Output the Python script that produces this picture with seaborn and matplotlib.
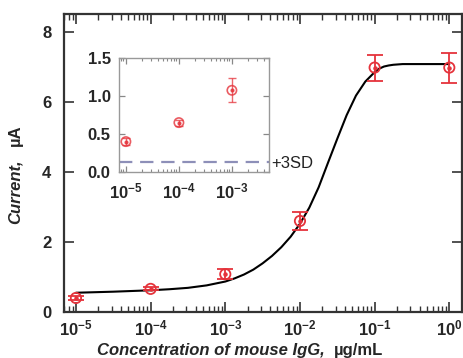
import numpy as np
import pandas as pd
import matplotlib
matplotlib.use("Agg")
import matplotlib.pyplot as plt
import seaborn as sns
from matplotlib.ticker import FixedLocator, FuncFormatter, NullFormatter, LogLocator

# ---------------- data ----------------
conc = [1e-5, 1e-4, 1e-3, 1e-2, 1e-1, 1e0]
current = [0.40, 0.66, 1.08, 2.60, 6.98, 6.98]
current_err = [0.05, 0.04, 0.15, 0.25, 0.37, 0.43]

fit_logx = [-5.0, -4.5, -4.0, -3.75, -3.5, -3.25, -3.0, -2.875, -2.75,
            -2.625, -2.5, -2.375, -2.25, -2.125, -2.0, -1.875, -1.75,
            -1.625, -1.5, -1.375, -1.25, -1.125, -1.0, -0.9375, -0.875,
            -0.8125, -0.75, -0.625, -0.5, 0.0]
fit_current = [0.55, 0.58, 0.62, 0.65, 0.69, 0.76, 0.87, 0.96, 1.07,
               1.21, 1.39, 1.60, 1.85, 2.15, 2.52, 2.98, 3.56,
               4.26, 4.95, 5.62, 6.18, 6.58, 6.85, 6.95, 7.01,
               7.04, 7.06, 7.08, 7.08, 7.08]

inset_conc = [1e-5, 1e-4, 1e-3]
inset_current = [0.40, 0.65, 1.075]
inset_err = [0.05, 0.04, 0.16]
blank_3sd = 0.13

main_xticks = [-5, -4, -3, -2, -1, 0]
main_yticks = [0, 2, 4, 6, 8]
inset_xticks = [-5, -4, -3]
inset_yticks = [0.0, 0.5, 1.0, 1.5]

# ---------------- style ----------------
sns.set_theme(style="ticks")
plt.rcParams["font.family"] = ["Liberation Sans", "DejaVu Sans"]
plt.rcParams["mathtext.fontset"] = "custom"
plt.rcParams["mathtext.rm"] = "Liberation Sans:bold"
plt.rcParams["mathtext.bf"] = "Liberation Sans:bold"
plt.rcParams["mathtext.it"] = "Liberation Sans:bold:italic"

RED = "#e5333b"
FRAME = "#333333"

W, H = 464, 358
fig = plt.figure(figsize=(W / 100, H / 100), dpi=100)

def box(l, t, r, b):
    return [l / W, 1 - b / H, (r - l) / W, (b - t) / H]

ax = fig.add_axes(box(64, 14, 462, 312))

df_fit = pd.DataFrame({"x": [10 ** v for v in fit_logx], "y": fit_current})
sns.lineplot(data=df_fit, x="x", y="y", ax=ax, color="black", lw=1.5,
             sort=False, estimator=None)

ax.errorbar(conc, current, yerr=current_err, fmt="none", ecolor=RED,
            elinewidth=1.3, capsize=5.5, capthick=1.3, zorder=3)
df_pts = pd.DataFrame({"x": conc, "y": current})
sns.scatterplot(data=df_pts, x="x", y="y", ax=ax, marker="o", s=55,
                facecolor="none", edgecolor=RED, linewidth=1.3, zorder=4)
ax.scatter(conc, current, s=5, color=RED, zorder=5)

ax.set_xscale("log")
ax.set_xlim(10 ** -5.16, 10 ** 0.17)
ax.set_ylim(0, 8.51)
ax.xaxis.set_major_locator(FixedLocator([10.0 ** e for e in main_xticks]))
ax.xaxis.set_minor_locator(LogLocator(base=10, subs=np.arange(2, 10)))
ax.xaxis.set_minor_formatter(NullFormatter())
ax.xaxis.set_major_formatter(FuncFormatter(
    lambda v, p: r"$\mathbf{10^{%d}}$" % int(round(np.log10(v)))))
ax.set_yticks(main_yticks)
ax.set_yticklabels([str(v) for v in main_yticks])
ax.tick_params(axis="both", which="major", direction="in", length=7,
               width=1.2, color=FRAME, top=True, right=True)
ax.tick_params(axis="x", which="minor", direction="in", length=4,
               width=1.0, color=FRAME, top=True, bottom=True)
ax.tick_params(axis="y", which="major", labelsize=12, pad=9)
ax.tick_params(axis="x", which="major", labelsize=12, pad=5)
for lab in ax.get_yticklabels():
    lab.set_fontweight("bold")
for s in ax.spines.values():
    s.set_color(FRAME)
    s.set_linewidth(1.6)
ax.set_xlabel("")
ax.set_ylabel("")

# axis labels (italic part + upright unit)
fig.text(15 / W, 1 - 192 / H, "Current,", rotation=90, ha="center",
         va="center", fontsize=12, fontweight="bold", style="italic")
fig.text(15 / W, 1 - 135 / H, "\u00b5A", rotation=90, ha="center",
         va="center", fontsize=12, fontweight="bold")
fig.text(97 / W, 1 - 351 / H, "Concentration of mouse IgG,", ha="left",
         va="center", fontsize=12, fontweight="bold", style="italic")
fig.text(334 / W, 1 - 351 / H, "\u00b5g/mL", ha="left", va="center",
         fontsize=12, fontweight="bold")

# ---------------- inset ----------------
axi = fig.add_axes(box(119, 58, 269, 172))
axi.axhline(blank_3sd, color="#8d8fb8", lw=1.6, dashes=(6, 3.5), zorder=1)
axi.errorbar(inset_conc, inset_current, yerr=inset_err, fmt="none",
             ecolor=RED, elinewidth=1.0, capsize=3, capthick=1.0,
             alpha=0.75, zorder=3)
df_in = pd.DataFrame({"x": inset_conc, "y": inset_current})
sns.scatterplot(data=df_in, x="x", y="y", ax=axi, marker="o", s=45,
                facecolor="none", edgecolor=RED, linewidth=1.2, alpha=0.8,
                zorder=4)
axi.scatter(inset_conc, inset_current, s=4, color=RED, alpha=0.8, zorder=5)
axi.set_xscale("log")
axi.set_xlim(10 ** -5.13, 10 ** -2.3)
axi.set_ylim(0, 1.5)
axi.xaxis.set_major_locator(FixedLocator([10.0 ** e for e in inset_xticks]))
axi.xaxis.set_minor_locator(LogLocator(base=10, subs=np.arange(2, 10)))
axi.xaxis.set_minor_formatter(NullFormatter())
axi.xaxis.set_major_formatter(FuncFormatter(
    lambda v, p: r"$\mathbf{10^{%d}}$" % int(round(np.log10(v)))))
axi.set_yticks(inset_yticks)
axi.set_yticklabels(["%.1f" % v for v in inset_yticks])
axi.tick_params(axis="both", which="major", direction="in", length=4,
                width=0.9, color="#888888", top=True, right=True)
axi.tick_params(axis="x", which="minor", direction="in", length=2.5,
                width=0.8, color="#888888", top=True, bottom=True)
axi.tick_params(axis="y", which="major", labelsize=12, pad=6)
axi.tick_params(axis="x", which="major", labelsize=12, pad=7)
for lab in axi.get_yticklabels():
    lab.set_fontweight("bold")
for s in axi.spines.values():
    s.set_color("#999999")
    s.set_linewidth(1.0)
axi.set_xlabel("")
axi.set_ylabel("")

fig.text(271 / W, 1 - 163 / H, "+3SD", ha="left", va="center", fontsize=12,
         color="#222222")

fig.savefig("out.png", dpi=100)
